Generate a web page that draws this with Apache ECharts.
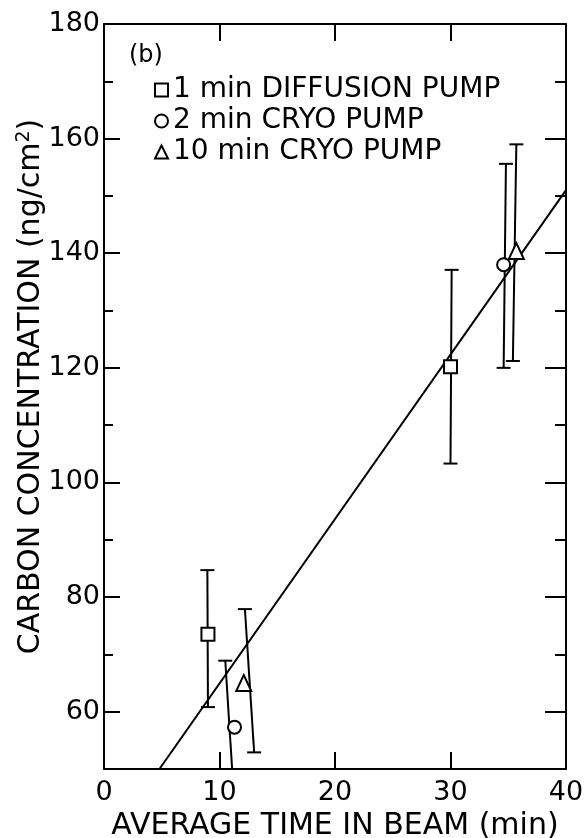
<!DOCTYPE html>
<html><head><meta charset="utf-8">
<script src="https://cdn.jsdelivr.net/npm/echarts@6/dist/echarts.min.js"></script>
<style>html,body{margin:0;padding:0;background:#fff}#c{width:584px;height:838px}</style>
</head><body><div id="c"></div>
<script>
// ---- data ----
const seriesNames = ['1 min DIFFUSION PUMP', '2 min CRYO PUMP', '10 min CRYO PUMP'];
const diffusionPoints = [[9.0, 73.5], [30.0, 120.2]];
const cryo2Points = [[11.3, 57.3], [34.6, 138.0]];
const cryo10Points = [[12.1, 65.0], [35.7, 140.4]];
// error bars: [xTop, yTop, xBottom, yBottom] (bars are slightly tilted in the original)
const diffusionErr = [[8.95, 84.7, 9.0, 60.8], [30.1, 137.1, 30.0, 103.3]];
const cryo2Err = [[10.5, 68.9, 11.25, 45.0], [34.8, 155.6, 34.6, 120.0]];
const cryo10Err = [[12.2, 77.9, 13.0, 52.9], [35.7, 159.0, 35.4, 121.2]];
const fitLine = [[4.8, 50], [40, 151]];
const xLabelValues = [0, 10, 20, 30, 40];
const xTickValues = [10, 20, 30];
const yMajorValues = [60, 80, 100, 120, 140, 160, 180];
const yMinorValues = [70, 90, 110, 130, 150, 170];
const xTitle = 'AVERAGE TIME IN BEAM (min)';
const yTitle = 'CARBON CONCENTRATION (ng/cm{sup|2})';
const panelLabel = '(b)';

const FONT = 'DejaVu Sans';
const BLACK = '#000';
const errorBars = diffusionErr.concat(cryo2Err, cryo10Err);

const chart = echarts.init(document.getElementById('c'), null, {renderer: 'canvas'});

function yAxisDef(pos, values, len, showLine, showLabel, extra) {
  return Object.assign({
    type: 'value', position: pos, min: 50, max: 180,
    axisLine: {show: showLine, onZero: false, lineStyle: {color: BLACK, width: 2}},
    axisTick: {show: true, inside: true, length: len, customValues: values, lineStyle: {color: BLACK, width: 2}},
    axisLabel: showLabel ? {show: true, customValues: values, fontSize: 27, fontFamily: FONT, color: BLACK, margin: 4} : {show: false},
    splitLine: {show: false}
  }, extra || {});
}

const markerStyle = {color: '#fff', borderColor: BLACK, borderWidth: 2, opacity: 1};

const option = {
  animation: false,
  backgroundColor: '#fff',
  title: {
    text: panelLabel, left: 129, top: 44, padding: 0,
    textStyle: {fontSize: 24, fontWeight: 'normal', fontFamily: FONT, color: BLACK}
  },
  legend: {
    data: seriesNames.map((n, i) => ({name: n, icon: ['rect', 'circle', 'triangle'][i]})),
    orient: 'vertical', left: 154, top: 76, padding: 0,
    itemWidth: 13, itemHeight: 13, itemGap: 3,
    itemStyle: {color: '#fff', borderColor: BLACK, borderWidth: 2},
    textStyle: {fontSize: 28, lineHeight: 28, fontFamily: FONT, color: BLACK},
    selectedMode: false
  },
  grid: {left: 104, right: 18, top: 24, bottom: 69, outerBoundsMode: 'none', containLabel: false},
  xAxis: [
    {
      type: 'value', position: 'bottom', min: 0, max: 40,
      axisLine: {onZero: false, lineStyle: {color: BLACK, width: 2}},
      axisTick: {inside: true, length: 17, customValues: xTickValues, lineStyle: {color: BLACK, width: 2}},
      axisLabel: {customValues: xLabelValues, fontSize: 27, fontFamily: FONT, color: BLACK, margin: 10},
      splitLine: {show: false},
      name: xTitle, nameLocation: 'middle', nameGap: 42, nameMoveOverlap: false,
      nameTextStyle: {fontSize: 30, fontFamily: FONT, color: BLACK}
    },
    {
      type: 'value', position: 'top', min: 0, max: 40,
      axisLine: {onZero: false, lineStyle: {color: BLACK, width: 2}},
      axisTick: {inside: true, length: 17, customValues: xTickValues, lineStyle: {color: BLACK, width: 2}},
      axisLabel: {show: false},
      splitLine: {show: false}
    }
  ],
  yAxis: [
    yAxisDef('left', yMajorValues, 16, true, true, {
      name: yTitle, nameLocation: 'middle', nameRotate: 90, nameGap: 56, nameMoveOverlap: false,
      nameTextStyle: {fontSize: 30, fontFamily: FONT, color: BLACK, padding: [0, 0, 0, 20],
        rich: {sup: {fontSize: 19, fontFamily: FONT, color: BLACK, verticalAlign: 'top', padding: [0, 0, 14, 0]}}}
    }),
    yAxisDef('left', yMinorValues, 9, false, false),
    yAxisDef('right', yMajorValues, 21, true, false),
    yAxisDef('right', yMinorValues, 11, false, false)
  ],
  series: [
    {
      name: 'fit', type: 'line', xAxisIndex: 0, yAxisIndex: 0,
      data: fitLine, showSymbol: false, symbol: 'none', silent: true,
      lineStyle: {color: BLACK, width: 2}, z: 2
    },
    {
      name: 'error bars', type: 'custom', xAxisIndex: 0, yAxisIndex: 0, clip: true,
      data: errorBars, z: 3, silent: true,
      encode: {x: [0, 2], y: [1, 3]},
      renderItem: function (params, api) {
        const top = api.coord([api.value(0), api.value(1)]);
        const bot = api.coord([api.value(2), api.value(3)]);
        const hw = 7;
        const st = {stroke: BLACK, lineWidth: 2, fill: null};
        return {
          type: 'group',
          children: [
            {type: 'line', shape: {x1: top[0], y1: top[1], x2: bot[0], y2: bot[1]}, style: st},
            {type: 'line', shape: {x1: top[0] - hw, y1: top[1], x2: top[0] + hw, y2: top[1]}, style: st},
            {type: 'line', shape: {x1: bot[0] - hw, y1: bot[1], x2: bot[0] + hw, y2: bot[1]}, style: st}
          ]
        };
      }
    },
    {
      name: seriesNames[0], type: 'scatter', data: diffusionPoints, symbol: 'rect', symbolSize: 13, z: 5,
      itemStyle: markerStyle
    },
    {
      name: seriesNames[1], type: 'scatter', data: cryo2Points, symbol: 'circle', symbolSize: 13, z: 5,
      itemStyle: markerStyle
    },
    {
      name: seriesNames[2], type: 'scatter', data: cryo10Points, symbol: 'triangle', symbolSize: [15, 16], z: 5,
      itemStyle: markerStyle
    }
  ]
};
chart.setOption(option);
</script>
</body></html>
